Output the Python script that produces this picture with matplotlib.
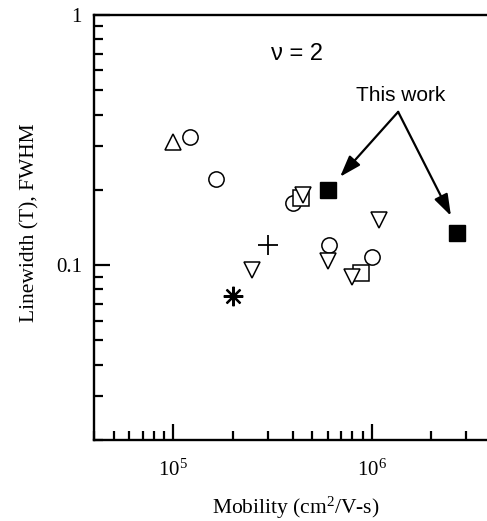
import matplotlib
matplotlib.use("Agg")
import matplotlib.pyplot as plt
from matplotlib.ticker import FixedLocator, FixedFormatter, LogLocator, NullFormatter

plt.rcParams['font.family'] = ['Liberation Serif', 'DejaVu Serif']
plt.rcParams['mathtext.fontset'] = 'custom'
plt.rcParams['mathtext.rm'] = 'Liberation Serif'
plt.rcParams['mathtext.it'] = 'Liberation Serif:italic'

# ---- data (mobility cm^2/V-s, linewidth T) ----
circle_x = [1.21e5, 1.65e5, 4.0e5, 6.1e5, 1.0e6]
circle_y = [0.325, 0.22, 0.177, 0.12, 0.108]
tri_up_x = [1.0e5]
tri_up_y = [0.31]
tri_down_x = [4.5e5, 1.09e6, 2.5e5, 6.0e5, 8.0e5]
tri_down_y = [0.19, 0.151, 0.096, 0.104, 0.090]
square_x = [4.4e5, 8.8e5]
square_y = [0.186, 0.093]
plus_x = [3.0e5]
plus_y = [0.12]
star_x = [2.0e5]
star_y = [0.075]
this_work_x = [6.0e5, 2.7e6]
this_work_y = [0.20, 0.134]

arrow_from = (1.36e6, 0.41)
arrow_tips = [(6.93e5, 0.2255), (2.51e6, 0.1574)]

y_ticks = [0.1, 1]
y_tick_labels = ['0.1', '1']
x_label = r'Mobility (cm$^{2}$/V-s)'
y_label = 'Linewidth (T), FWHM'
nu_text = '\u03bd = 2'
this_work_text = 'This work'

fig = plt.figure(figsize=(4.87, 5.21), dpi=100)
ax = fig.add_axes([0.1938, 0.1555, 0.8146, 0.8157])
ax.set_xscale('log')
ax.set_yscale('log')
ax.set_xlim(4e4, 4e6)
ax.set_ylim(0.02, 1)

mk = dict(linestyle='none', mfc='white', mec='black', mew=1.1, clip_on=False)
ax.plot(circle_x, circle_y, marker='o', ms=11, **mk)
ax.plot(square_x, square_y, marker='s', ms=11.5, **mk)
ax.plot(tri_down_x, tri_down_y, marker='v', ms=11, **mk)
ax.plot(tri_up_x, tri_up_y, marker='^', ms=11, **mk)
ax.plot(plus_x, plus_y, marker='+', ms=14, linestyle='none', color='black', mew=1.3)
ax.plot(star_x, star_y, marker=(8, 2, 0), ms=14, linestyle='none', color='black', mew=1.6)
ax.plot(this_work_x, this_work_y, marker='s', ms=12, linestyle='none', mfc='black', mec='black')

for tip in arrow_tips:
    ax.annotate('', xy=tip, xytext=arrow_from,
                arrowprops=dict(arrowstyle='-|>,head_length=0.65,head_width=0.22',
                                mutation_scale=20, lw=1.6, color='black',
                                shrinkA=0, shrinkB=0))

ax.text(0.511, 0.908, nu_text, transform=ax.transAxes, ha='center', va='center',
        fontsize=17, family=['Liberation Sans', 'DejaVu Sans'])
ax.text(0.773, 0.81, this_work_text, transform=ax.transAxes, ha='center', va='center',
        fontsize=15, family=['Liberation Sans', 'DejaVu Sans'])

# axes styling
ax.spines['right'].set_visible(False)
for s in ['left', 'bottom', 'top']:
    ax.spines[s].set_linewidth(1.7)

ax.yaxis.set_major_locator(FixedLocator(y_ticks))
ax.yaxis.set_major_formatter(FixedFormatter(y_tick_labels))
ax.yaxis.set_minor_locator(LogLocator(base=10, subs=range(2, 10)))
ax.yaxis.set_minor_formatter(NullFormatter())
ax.xaxis.set_major_locator(LogLocator(base=10, subs=(1.0,)))
ax.xaxis.set_minor_locator(LogLocator(base=10, subs=range(2, 10)))
ax.xaxis.set_minor_formatter(NullFormatter())

ax.tick_params(which='both', direction='in', top=False, right=False, width=1.6)
ax.tick_params(which='major', length=11.5, labelsize=15)
ax.tick_params(which='minor', length=6.5)
ax.tick_params(axis='y', which='major', pad=9)
ax.tick_params(axis='x', which='major', pad=14)

ax.set_xlabel(x_label, fontsize=15.5)
ax.set_ylabel(y_label, fontsize=15.5)
ax.xaxis.set_label_coords(0.508, -0.128)
ax.yaxis.set_label_coords(-0.138, 0.512)

fig.savefig('out.png', dpi=100)
